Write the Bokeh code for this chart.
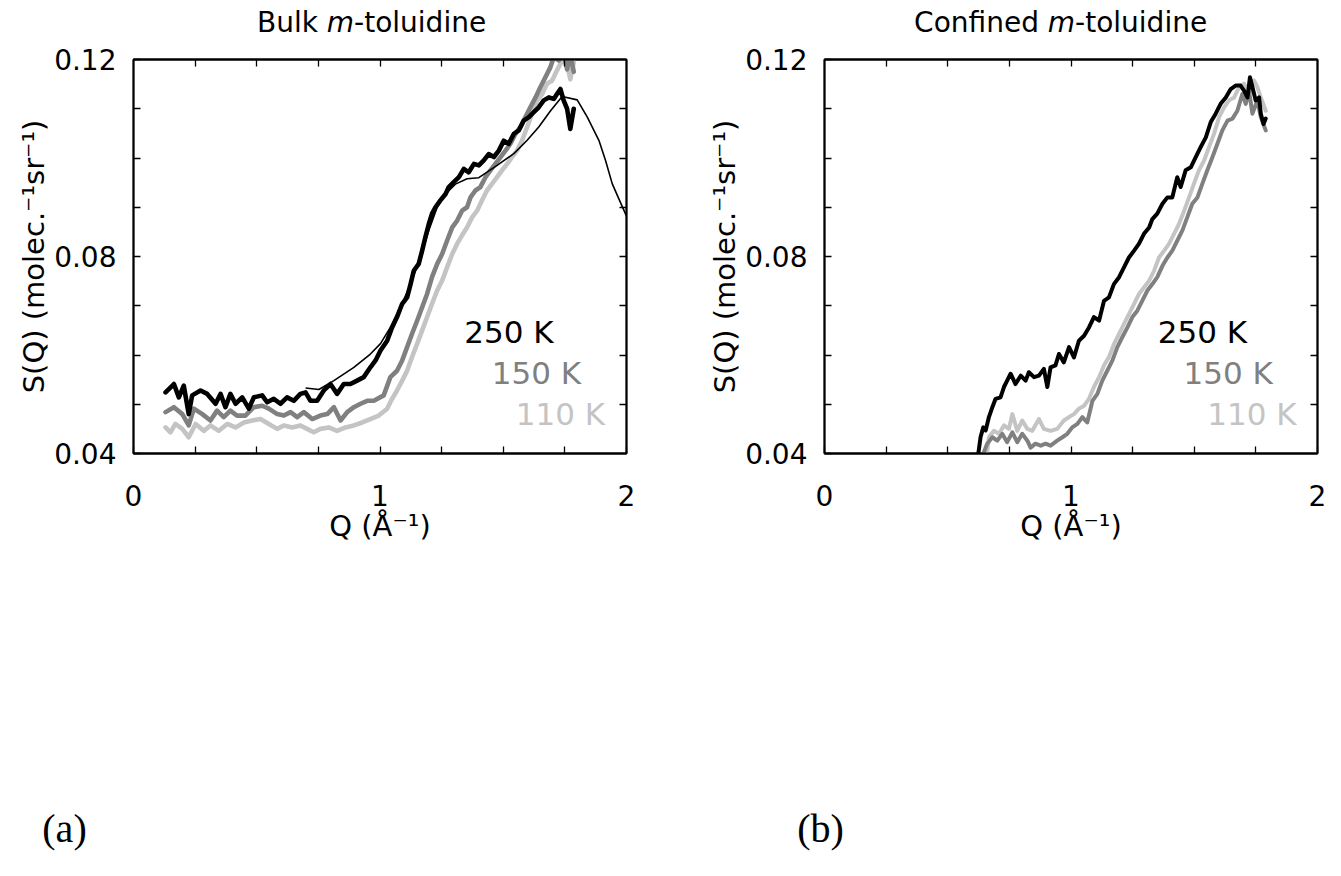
from bokeh.plotting import figure
from bokeh.models import FixedTicker, PrintfTickFormatter, LinearAxis, Label, Range1d
from bokeh.layouts import row, column
from bokeh.embed import file_html
from bokeh.resources import INLINE

# ---------------- data (Q in 1/Angstrom, S(Q) in molec^-1 sr^-1) ----------------
bulk_250 = [(0.130,0.0524),(0.164,0.0541),(0.184,0.0514),(0.204,0.0538),(0.224,0.0480),(0.238,0.0518),(0.272,0.0528),(0.299,0.0521),(0.333,0.0501),(0.353,0.0521),(0.373,0.0494),(0.393,0.0521),(0.414,0.0501),(0.441,0.0514),(0.468,0.0491),(0.488,0.0514),(0.522,0.0518),(0.542,0.0504),(0.569,0.0511),(0.596,0.0501),(0.623,0.0514),(0.650,0.0507),(0.677,0.0521),(0.698,0.0524),(0.718,0.0507),(0.745,0.0507),(0.772,0.0528),(0.799,0.0541),(0.826,0.0521),(0.853,0.0541),(0.880,0.0541),(0.907,0.0548),(0.934,0.0555),(0.961,0.0575),(0.982,0.0589),(1.002,0.0609),(1.029,0.0629),(1.049,0.0656),(1.069,0.0677),(1.090,0.0704),(1.110,0.0717),(1.124,0.0744),(1.137,0.0771),(1.157,0.0785),(1.171,0.0812),(1.184,0.0839),(1.198,0.0866),(1.211,0.0887),(1.225,0.0900),(1.245,0.0914),(1.266,0.0927),(1.279,0.0941),(1.299,0.0951),(1.320,0.0961),(1.340,0.0978),(1.360,0.0971),(1.381,0.0988),(1.401,0.0985),(1.421,0.0995),(1.441,0.1008),(1.462,0.1002),(1.482,0.1015),(1.502,0.1035),(1.522,0.1029),(1.543,0.1049),(1.563,0.1056),(1.583,0.1076),(1.604,0.1083),(1.624,0.1093),(1.644,0.1103),(1.664,0.1117),(1.685,0.1123),(1.705,0.1120),(1.718,0.1130),(1.732,0.1140),(1.745,0.1117),(1.759,0.1100),(1.772,0.1059),(1.786,0.1100)]

bulk_150 = [(0.130,0.0484),(0.164,0.0494),(0.198,0.0480),(0.224,0.0457),(0.245,0.0491),(0.279,0.0480),(0.312,0.0467),(0.339,0.0487),(0.366,0.0474),(0.393,0.0487),(0.420,0.0477),(0.454,0.0477),(0.488,0.0494),(0.522,0.0497),(0.549,0.0491),(0.583,0.0480),(0.610,0.0477),(0.637,0.0484),(0.664,0.0474),(0.691,0.0484),(0.725,0.0470),(0.758,0.0477),(0.786,0.0480),(0.813,0.0494),(0.840,0.0467),(0.867,0.0484),(0.894,0.0494),(0.921,0.0501),(0.948,0.0507),(0.975,0.0507),(1.015,0.0518),(1.042,0.0555),(1.069,0.0568),(1.090,0.0589),(1.110,0.0616),(1.130,0.0643),(1.151,0.0670),(1.171,0.0697),(1.191,0.0724),(1.211,0.0758),(1.232,0.0785),(1.252,0.0805),(1.272,0.0832),(1.293,0.0859),(1.313,0.0873),(1.333,0.0893),(1.353,0.0900),(1.367,0.0920),(1.387,0.0934),(1.407,0.0941),(1.428,0.0961),(1.448,0.0975),(1.468,0.0988),(1.489,0.1002),(1.509,0.1015),(1.529,0.1029),(1.549,0.1049),(1.570,0.1063),(1.590,0.1083),(1.610,0.1103),(1.631,0.1123),(1.651,0.1144),(1.671,0.1164),(1.691,0.1184),(1.705,0.1205),(1.725,0.1198),(1.745,0.1215),(1.759,0.1180),(1.772,0.1210),(1.786,0.1175)]

bulk_110 = [(0.130,0.0453),(0.150,0.0443),(0.170,0.0460),(0.198,0.0450),(0.224,0.0433),(0.252,0.0460),(0.285,0.0446),(0.312,0.0457),(0.346,0.0446),(0.380,0.0460),(0.414,0.0453),(0.448,0.0463),(0.481,0.0467),(0.515,0.0470),(0.549,0.0460),(0.583,0.0450),(0.610,0.0457),(0.644,0.0453),(0.677,0.0457),(0.704,0.0450),(0.731,0.0443),(0.758,0.0450),(0.792,0.0453),(0.826,0.0446),(0.860,0.0453),(0.894,0.0457),(0.928,0.0463),(0.961,0.0470),(0.995,0.0477),(1.029,0.0491),(1.049,0.0511),(1.069,0.0528),(1.090,0.0548),(1.110,0.0568),(1.130,0.0596),(1.151,0.0623),(1.171,0.0650),(1.191,0.0677),(1.211,0.0704),(1.232,0.0731),(1.252,0.0751),(1.272,0.0778),(1.293,0.0805),(1.313,0.0826),(1.333,0.0843),(1.353,0.0859),(1.374,0.0880),(1.394,0.0893),(1.414,0.0914),(1.434,0.0934),(1.455,0.0948),(1.475,0.0961),(1.495,0.0975),(1.516,0.0988),(1.536,0.1002),(1.556,0.1015),(1.576,0.1035),(1.597,0.1063),(1.617,0.1090),(1.637,0.1117),(1.658,0.1130),(1.678,0.1151),(1.698,0.1157),(1.718,0.1178),(1.739,0.1198),(1.759,0.1191),(1.772,0.1160),(1.786,0.1195)]

bulk_model = [(0.698,0.0533),(0.752,0.0530),(0.813,0.0548),(0.894,0.0575),(0.961,0.0602),(1.002,0.0623),(1.042,0.0656),(1.083,0.0697),(1.124,0.0744),(1.164,0.0798),(1.198,0.0853),(1.232,0.0900),(1.266,0.0927),(1.306,0.0947),(1.353,0.0958),(1.401,0.0960),(1.475,0.0985),(1.543,0.1009),(1.597,0.1036),(1.644,0.1063),(1.692,0.1096),(1.739,0.1125),(1.800,0.1118),(1.841,0.1083),(1.888,0.1036),(1.915,0.0995),(1.942,0.0948),(1.969,0.0917),(2.000,0.0882)]

conf_250 = [(0.624,0.0400),(0.633,0.0433),(0.644,0.0453),(0.654,0.0447),(0.667,0.0474),(0.681,0.0494),(0.694,0.0511),(0.714,0.0514),(0.728,0.0535),(0.741,0.0548),(0.755,0.0562),(0.775,0.0541),(0.796,0.0558),(0.816,0.0548),(0.829,0.0565),(0.850,0.0555),(0.870,0.0558),(0.890,0.0572),(0.904,0.0535),(0.917,0.0575),(0.937,0.0579),(0.951,0.0602),(0.971,0.0585),(0.992,0.0616),(1.012,0.0595),(1.032,0.0629),(1.053,0.0639),(1.073,0.0656),(1.093,0.0677),(1.114,0.0670),(1.134,0.0710),(1.154,0.0717),(1.174,0.0744),(1.195,0.0758),(1.215,0.0778),(1.235,0.0798),(1.256,0.0812),(1.276,0.0826),(1.296,0.0846),(1.317,0.0859),(1.330,0.0876),(1.350,0.0887),(1.371,0.0907),(1.391,0.0920),(1.411,0.0920),(1.431,0.0961),(1.445,0.0941),(1.465,0.0975),(1.486,0.0981),(1.506,0.1002),(1.526,0.1022),(1.547,0.1042),(1.567,0.1073),(1.587,0.1090),(1.607,0.1110),(1.628,0.1123),(1.648,0.1140),(1.668,0.1147),(1.688,0.1147),(1.702,0.1137),(1.716,0.1123),(1.726,0.1164),(1.736,0.1144),(1.749,0.1117),(1.763,0.1123),(1.770,0.1090),(1.781,0.1069),(1.790,0.1080)]

conf_150 = [(0.647,0.0403),(0.660,0.0420),(0.681,0.0433),(0.701,0.0426),(0.721,0.0440),(0.741,0.0423),(0.762,0.0443),(0.782,0.0423),(0.802,0.0440),(0.823,0.0426),(0.836,0.0412),(0.856,0.0420),(0.877,0.0416),(0.897,0.0420),(0.917,0.0416),(0.944,0.0426),(0.965,0.0433),(0.985,0.0440),(1.005,0.0453),(1.026,0.0460),(1.046,0.0474),(1.066,0.0463),(1.087,0.0507),(1.107,0.0521),(1.127,0.0548),(1.147,0.0568),(1.168,0.0589),(1.188,0.0616),(1.208,0.0636),(1.229,0.0656),(1.249,0.0677),(1.269,0.0690),(1.289,0.0710),(1.310,0.0731),(1.330,0.0744),(1.350,0.0758),(1.371,0.0781),(1.391,0.0798),(1.411,0.0812),(1.431,0.0832),(1.452,0.0853),(1.472,0.0880),(1.492,0.0907),(1.513,0.0920),(1.533,0.0948),(1.553,0.0975),(1.574,0.1002),(1.594,0.1029),(1.614,0.1056),(1.635,0.1076),(1.655,0.1080),(1.675,0.1096),(1.695,0.1130),(1.709,0.1110),(1.722,0.1137),(1.736,0.1090),(1.756,0.1117),(1.770,0.1083),(1.790,0.1056)]

conf_110 = [(0.660,0.0403),(0.667,0.0433),(0.687,0.0446),(0.708,0.0440),(0.728,0.0457),(0.748,0.0450),(0.762,0.0480),(0.782,0.0446),(0.802,0.0467),(0.823,0.0450),(0.843,0.0446),(0.870,0.0470),(0.890,0.0450),(0.917,0.0446),(0.944,0.0450),(0.971,0.0467),(0.992,0.0474),(1.012,0.0480),(1.032,0.0491),(1.053,0.0497),(1.073,0.0511),(1.093,0.0535),(1.114,0.0555),(1.134,0.0579),(1.154,0.0596),(1.175,0.0623),(1.195,0.0643),(1.215,0.0663),(1.235,0.0683),(1.256,0.0704),(1.276,0.0724),(1.296,0.0737),(1.317,0.0751),(1.337,0.0771),(1.357,0.0798),(1.378,0.0812),(1.398,0.0826),(1.418,0.0846),(1.438,0.0866),(1.459,0.0893),(1.479,0.0920),(1.499,0.0948),(1.519,0.0975),(1.540,0.0995),(1.560,0.1022),(1.580,0.1049),(1.601,0.1083),(1.621,0.1103),(1.641,0.1117),(1.662,0.1123),(1.682,0.1144),(1.702,0.1151),(1.722,0.1130),(1.743,0.1157),(1.756,0.1144),(1.770,0.1123),(1.790,0.1096)]

temps = ["250 K", "150 K", "110 K"]
colors = ["#000000", "#808080", "#c4c4c4"]
titles = ["Bulk", "Confined"]
panel_tags = ["(a)", "(b)"]
x_major = [0, 1, 2]
x_minor = [0.25, 0.5, 0.75, 1.25, 1.5, 1.75]
y_major = [0.04, 0.08, 0.12]
y_minor = [0.05, 0.06, 0.07, 0.09, 0.10, 0.11]

FONT = "DejaVu Sans"
W1, W2 = 678, 655
TOTAL_W = W1 + W2
HEADER_H = 45


def style_axis(ax, major, minor, fmt=None, label=None):
    ax.ticker = FixedTicker(ticks=major, minor_ticks=minor)
    if fmt:
        ax.formatter = PrintfTickFormatter(format=fmt)
    ax.axis_line_color = "black"
    ax.axis_line_width = 1.8
    ax.major_tick_line_color = "black"
    ax.minor_tick_line_color = "black"
    ax.major_tick_line_width = 1.3
    ax.minor_tick_line_width = 1.3
    ax.major_tick_in = 7
    ax.major_tick_out = 0
    ax.minor_tick_in = 7
    ax.minor_tick_out = 0
    ax.major_label_text_font = FONT
    ax.major_label_text_font_size = "28px"
    ax.major_label_text_color = "black"
    if label:
        ax.axis_label = label
        ax.axis_label_text_font = FONT
        ax.axis_label_text_font_size = "29px"
        ax.axis_label_text_font_style = "normal"
        ax.axis_label_text_color = "black"


def make_panel(series, model, legend_pos, border_left, border_right, lw):
    p = figure(frame_width=493, frame_height=394,
               min_border_left=border_left, min_border_right=border_right,
               min_border_top=59 - HEADER_H, min_border_bottom=115,
               x_range=Range1d(0, 2), y_range=Range1d(0.04, 0.12),
               x_axis_type=None, y_axis_type=None,
               output_backend="svg", toolbar_location=None)
    p.outline_line_color = "black"
    p.outline_line_width = 1.8

    xb = LinearAxis()
    style_axis(xb, x_major, x_minor, "%d", "Q (Å⁻¹)")
    xb.major_label_standoff = 31
    xb.axis_label_standoff = 0
    p.add_layout(xb, "below")

    yl = LinearAxis()
    style_axis(yl, y_major, y_minor, "%.2f", "S(Q) (molec.⁻¹sr⁻¹)")
    yl.major_label_standoff = 17
    yl.axis_label_standoff = 0
    p.add_layout(yl, "left")

    xt = LinearAxis()
    style_axis(xt, [], x_minor + [1])
    p.add_layout(xt, "above")

    yr = LinearAxis()
    style_axis(yr, [], y_minor + [0.08])
    p.add_layout(yr, "right")

    # lightest first so that the black curve sits on top
    for data, col in reversed(list(zip(series, colors))):
        p.line([d[0] for d in data], [d[1] for d in data], line_color=col,
               line_width=lw, line_join="round", line_cap="round")
    if model:
        p.line([d[0] for d in model], [d[1] for d in model],
               line_color="black", line_width=1.6)

    for (tx, ty), t, col in zip(legend_pos, temps, colors):
        p.add_layout(Label(x=tx, y=ty, text=t, text_color=col, text_font=FONT,
                           text_font_size="31px", text_align="center",
                           text_baseline="middle"))
    return p


legend_bulk = [(1.523, 0.0646), (1.635, 0.0563), (1.732, 0.0481)]
legend_conf = [(1.533, 0.0646), (1.638, 0.0563), (1.734, 0.0481)]

p1 = make_panel([bulk_250, bulk_150, bulk_110], bulk_model, legend_bulk, 133, W1 - 626, 4.6)
p2 = make_panel([conf_250, conf_150, conf_110], None, legend_conf, 824 - W1, TOTAL_W - 1317, 4.0)

# header with the two titles, "m" in italics
header = figure(width=TOTAL_W, height=HEADER_H, x_range=Range1d(0, TOTAL_W),
                y_range=Range1d(0, HEADER_H), x_axis_type=None, y_axis_type=None,
                output_backend="svg", toolbar_location=None, min_border=0)
header.outline_line_color = None
TSIZE = "28px"
for m_center, word in zip([340, 1061], titles):
    header.add_layout(Label(x=m_center, y=23, x_offset=-22.6, text=word, text_font=FONT,
                            text_font_size=TSIZE, text_align="right",
                            text_baseline="middle", text_color="black"))
    header.add_layout(Label(x=m_center, y=23, text="m", text_font=FONT,
                            text_font_size=TSIZE, text_font_style="italic",
                            text_align="center", text_baseline="middle",
                            text_color="black"))
    header.add_layout(Label(x=m_center, y=23, x_offset=13.6, text="-toluidine",
                            text_font=FONT, text_font_size=TSIZE, text_align="left",
                            text_baseline="middle", text_color="black"))

footer = figure(width=TOTAL_W, height=300, x_range=Range1d(0, TOTAL_W),
                y_range=Range1d(0, 300), x_axis_type=None, y_axis_type=None,
                output_backend="svg", toolbar_location=None, min_border=0)
footer.outline_line_color = None
for fx, tag in zip([64, 820], panel_tags):
    footer.add_layout(Label(x=fx, y=40, text=tag, text_font="Liberation Serif",
                            text_font_size="40px", text_align="center",
                            text_baseline="middle", text_color="black"))

layout = column(header, row(p1, p2), footer)
open("out.html", "w").write(file_html(layout, INLINE))
